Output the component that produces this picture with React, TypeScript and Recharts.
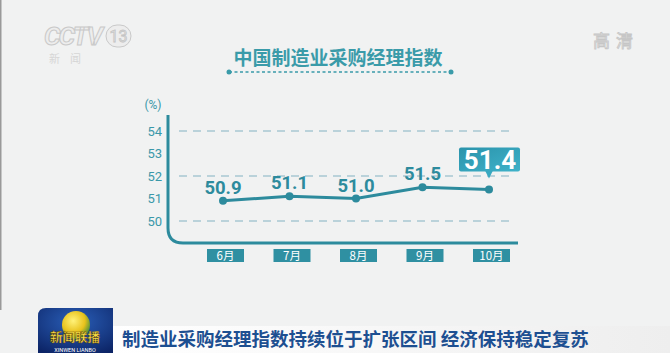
import { LineChart, Line, XAxis, YAxis, CartesianGrid, LabelList } from 'recharts'

const months = ['6月', '7月', '8月', '9月', '10月']
const pmi = [50.9, 51.1, 51.0, 51.5, 51.4]
const yTicks = [50, 51, 52, 53, 54]

const title = '中国制造业采购经理指数'
const headline = '制造业采购经理指数持续位于扩张区间 经济保持稳定复苏'

const data = months.map((m, i) => ({ month: m, pmi: pmi[i] }))

const TEAL = '#2d8b9d'
const TEAL_TEXT = '#3a98a9'
const NUM_FONT = 'Roboto, "Liberation Sans", sans-serif'
const CJK = '"Noto Sans CJK SC", "Noto Sans", sans-serif'

function MonthTick({ x, y, payload }: any) {
  return (
    <g>
      <rect x={x - 16} y={y + 28} width={37} height={13} fill="#2f90a2" />
      <text x={x + 2.5} y={y + 38.5} textAnchor="middle" fill="#fff" fontSize={11.5} fontFamily={CJK}>
        {payload.value}
      </text>
    </g>
  )
}

function ValueLabel({ x, y, value, index }: any) {
  const txt = Number(value).toFixed(1)
  if (index === pmi.length - 1) {
    const top = y - 42
    return (
      <g>
        <defs>
          <linearGradient id="callout" x1="0" y1="0" x2="1" y2="1">
            <stop offset="0%" stopColor="#2a93ab" />
            <stop offset="100%" stopColor="#3fb2c9" />
          </linearGradient>
        </defs>
        <rect x={x - 30} y={top} width={61} height={24} rx={2} fill="url(#callout)" />
        <path d={`M${x - 4} ${top + 23} L${x + 4} ${top + 23} L${x} ${top + 31} Z`} fill="#38a8c0" />
        <text x={x + 1} y={top + 21} textAnchor="middle" fill="#fff" fontSize={26} fontWeight="bold"
          fontFamily={NUM_FONT}>
          {txt}
        </text>
      </g>
    )
  }
  return (
    <text x={x} y={y - 7} textAnchor="middle" fill={TEAL} fontSize={18.5} fontWeight="bold"
      fontFamily={NUM_FONT}>
      {txt}
    </text>
  )
}

export default function App() {
  return (
    <div style={{ position: 'absolute', left: 0, top: 0, width: 670, height: 353, background: '#f1f2f2', overflow: 'hidden' }}>
      <svg width={670} height={353} style={{ position: 'absolute', left: 0, top: 0 }}>
        <defs>
          <linearGradient id="banner" x1="0" y1="0" x2="1" y2="0">
            <stop offset="0%" stopColor="#ffffff" />
            <stop offset="100%" stopColor="#eeeeee" />
          </linearGradient>
          <radialGradient id="logoBg" cx="0.5" cy="0.3" r="0.8">
            <stop offset="0%" stopColor="#2a5fb8" />
            <stop offset="100%" stopColor="#0c2466" />
          </radialGradient>
          <radialGradient id="globe" cx="0.4" cy="0.35" r="0.7">
            <stop offset="0%" stopColor="#fff27a" />
            <stop offset="60%" stopColor="#e8c21c" />
            <stop offset="100%" stopColor="#3a8a3a" />
          </radialGradient>
        </defs>
        <rect x={0} y={0} width={1.5} height={310} fill="#9a9a9a" />
        {/* channel watermark */}
        <text x={44} y={45} fontSize={26} fontStyle="italic" fontWeight="bold" fontFamily="Roboto, sans-serif"
          fill="#ededed" stroke="#c9c9c9" strokeWidth={1} letterSpacing={-2}>CCTV</text>
        <rect x={106} y={25} width={25} height={22} rx={11} fill="#ededed" stroke="#c9c9c9" />
        <text x={118.5} y={42} textAnchor="middle" fontSize={16} fontFamily="Roboto, sans-serif" fill="#e6e6e6" stroke="#c4c4c4" strokeWidth={0.8}>13</text>
        <text x={70} y={63} textAnchor="middle" fontSize={11} fontFamily={CJK} fill="#d6d6d6" letterSpacing={10}>新闻</text>
        <text x={616} y={47} textAnchor="middle" fontSize={17} fontFamily={CJK} fill="#e9e9e9" stroke="#c6c6c6" strokeWidth={0.8} letterSpacing={6}>高清</text>
        {/* title */}
        <text x={338} y={65} textAnchor="middle" fontSize={19} fontWeight="bold" fontFamily={CJK} fill="#3a9ba9">{title}</text>
        <line x1={229} y1={72} x2={451} y2={72} stroke="#3a9ba9" strokeWidth={1.5} strokeDasharray="3 2.5" />
        <circle cx={229} cy={72} r={2.5} fill="#3a9ba9" />
        <circle cx={451} cy={72} r={2.5} fill="#3a9ba9" />
        {/* axis frame */}
        <text x={153} y={109} textAnchor="middle" fontSize={12} fontFamily="Roboto, sans-serif" fill={TEAL_TEXT}>(%)</text>
        <path d="M168 115 L168 228 Q168 243 183 243 L518 243" fill="none" stroke={TEAL} strokeWidth={3} />
        {/* bottom banner */}
        <rect x={113} y={326} width={557} height={27} fill="url(#banner)" />
        <path d="M38 353 L38 316 Q38 308 46 308 L113 308 L113 353 Z" fill="url(#logoBg)" />
        <circle cx={76} cy={325} r={14} fill="url(#globe)" />
        <text x={75} y={342} textAnchor="middle" fontSize={12.5} fontWeight="bold" fontFamily={CJK} fill="#ffe34a" stroke="#5a3a00" strokeWidth={0.4}>新闻联播</text>
        <text x={75} y={352} textAnchor="middle" fontSize={5.5} fontFamily="Roboto, sans-serif" fill="#ffffff">XINWEN LIANBO</text>
        <text x={122} y={346} fontSize={18.5} fontWeight="bold" fontFamily={CJK} fill="#1d4f91">{headline}</text>
      </svg>
      <div style={{ position: 'absolute', left: 0, top: 0 }}>
        <LineChart width={670} height={353} data={data} margin={{ top: 131, right: 160, bottom: 92, left: 139 }}>
          <CartesianGrid horizontal vertical={false} stroke="#a8c8d2" strokeWidth={1.5} strokeDasharray="8 6" />
          <XAxis dataKey="month" height={40} axisLine={false} tickLine={false} tickSize={0} tickMargin={0}
            padding={{ left: 44, right: 21 }} tick={<MonthTick />} interval={0} />
          <YAxis domain={[50, 54]} ticks={yTicks} width={40} axisLine={false} tickLine={false} tickSize={0} tickMargin={17}
            tick={{ fill: TEAL_TEXT, fontSize: 13, fontFamily: 'Roboto, sans-serif' }} />
          <Line type="linear" dataKey="pmi" stroke={TEAL} strokeWidth={3} isAnimationActive={false}
            dot={{ r: 4, fill: TEAL, stroke: 'none' }} activeDot={false}>
            <LabelList dataKey="pmi" content={<ValueLabel />} />
          </Line>
        </LineChart>
      </div>
    </div>
  )
}
